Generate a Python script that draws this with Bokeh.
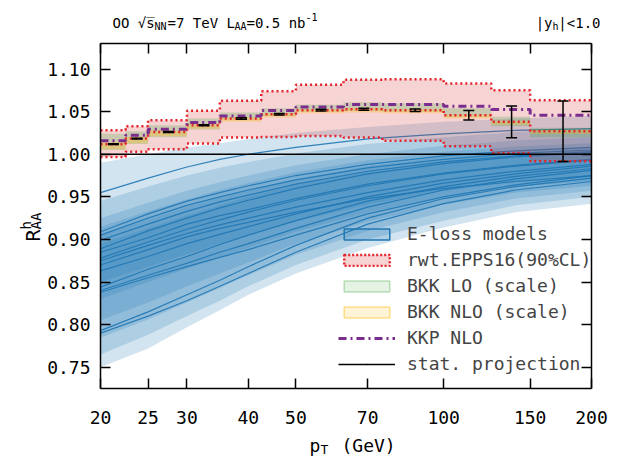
import numpy as np
from math import pi, log10
from bokeh.plotting import figure
from bokeh.models import (Range1d, FixedTicker, PrintfTickFormatter, LinearAxis, LogAxis,
                          Label, Legend, LegendItem)
from bokeh.embed import file_html
from bokeh.resources import INLINE

FONT = "DejaVu Sans Mono"

# ---------------- data ----------------
xticks = [20, 25, 30, 40, 50, 70, 100, 150, 200]
yticks = [0.75, 0.80, 0.85, 0.90, 0.95, 1.00, 1.05, 1.10]

# E-loss model curves / bands, evaluated at these pT nodes
pt_nodes = [20, 25, 30, 35, 40, 50, 70, 100, 140, 200]

band_a_lo = [0.750, 0.772, 0.797, 0.817, 0.835, 0.860, 0.890, 0.914, 0.932, 0.942]
band_a_hi = [0.990, 1.000, 1.008, 1.013, 1.018, 1.025, 1.032, 1.038, 1.042, 1.045]
band_b_lo = [0.765, 0.788, 0.810, 0.828, 0.845, 0.870, 0.900, 0.922, 0.940, 0.950]
band_b_hi = [0.945, 0.962, 0.975, 0.984, 0.991, 1.001, 1.012, 1.020, 1.026, 1.030]
band_c_lo = [0.785, 0.806, 0.826, 0.843, 0.858, 0.882, 0.910, 0.932, 0.948, 0.957]
band_c_hi = [0.925, 0.943, 0.957, 0.967, 0.975, 0.987, 1.000, 1.010, 1.016, 1.020]
band_d_lo = [0.805, 0.826, 0.845, 0.860, 0.873, 0.895, 0.921, 0.941, 0.955, 0.963]
band_d_hi = [0.915, 0.933, 0.947, 0.958, 0.966, 0.979, 0.993, 1.003, 1.009, 1.013]
band_e_lo = [0.830, 0.850, 0.866, 0.879, 0.890, 0.909, 0.932, 0.950, 0.962, 0.969]
band_e_hi = [0.905, 0.923, 0.938, 0.949, 0.958, 0.971, 0.986, 0.997, 1.004, 1.008]
band_f_lo = [0.850, 0.868, 0.883, 0.895, 0.905, 0.921, 0.941, 0.957, 0.967, 0.973]
band_f_hi = [0.895, 0.913, 0.928, 0.940, 0.950, 0.964, 0.980, 0.992, 1.000, 1.004]

eloss_l01 = [0.955, 0.972, 0.985, 0.994, 1.000, 1.008, 1.018, 1.024, 1.028, 1.030]
eloss_l02 = [0.909, 0.930, 0.945, 0.955, 0.963, 0.975, 0.988, 0.998, 1.004, 1.008]
eloss_l03 = [0.905, 0.925, 0.940, 0.950, 0.958, 0.970, 0.984, 0.994, 1.001, 1.005]
eloss_l04 = [0.899, 0.918, 0.933, 0.944, 0.952, 0.965, 0.980, 0.991, 0.998, 1.003]
eloss_l05 = [0.889, 0.910, 0.925, 0.937, 0.946, 0.960, 0.977, 0.989, 0.997, 1.002]
eloss_l06 = [0.885, 0.902, 0.918, 0.928, 0.935, 0.948, 0.965, 0.978, 0.987, 0.994]
eloss_l07 = [0.878, 0.897, 0.912, 0.923, 0.932, 0.946, 0.963, 0.977, 0.986, 0.993]
eloss_l08 = [0.875, 0.893, 0.907, 0.917, 0.925, 0.938, 0.955, 0.970, 0.980, 0.988]
eloss_l09 = [0.870, 0.888, 0.903, 0.913, 0.920, 0.932, 0.948, 0.960, 0.968, 0.975]
eloss_l10 = [0.863, 0.880, 0.895, 0.906, 0.915, 0.930, 0.950, 0.966, 0.977, 0.986]
eloss_l11 = [0.844, 0.865, 0.880, 0.894, 0.905, 0.922, 0.945, 0.962, 0.974, 0.983]
eloss_l12 = [0.840, 0.858, 0.872, 0.885, 0.895, 0.913, 0.938, 0.958, 0.971, 0.981]
eloss_l13 = [0.838, 0.855, 0.868, 0.879, 0.888, 0.905, 0.930, 0.950, 0.964, 0.975]
eloss_l14 = [0.793, 0.815, 0.835, 0.852, 0.868, 0.893, 0.925, 0.948, 0.962, 0.972]
eloss_l15 = [0.790, 0.810, 0.828, 0.845, 0.860, 0.885, 0.918, 0.942, 0.958, 0.968]

# binned predictions
bin_edges = [20, 22.5, 25, 30, 35, 42.5, 50, 62.5, 75, 100, 125, 150, 200]
epps_hi = [1.0282, 1.0330, 1.0400, 1.0510, 1.0627, 1.0740, 1.0815, 1.0873, 1.0880, 1.0830, 1.0750, 1.0635]
epps_lo = [0.9968, 1.0030, 1.0060, 1.0126, 1.0196, 1.0203, 1.0215, 1.0196, 1.0157, 1.0094, 1.0016, 0.9918]
epps_c = [1.0118, 1.0184, 1.0262, 1.0340, 1.0420, 1.0470, 1.0517, 1.0529, 1.0517, 1.0458, 1.0380, 1.0270]
bkk_lo_hi = [1.0240, 1.0270, 1.0340, 1.0420, 1.0490, 1.0540, 1.0580, 1.0610, 1.0600, 1.0540, 1.0440, 1.0310]
bkk_lo_lo = [1.0050, 1.0120, 1.0200, 1.0290, 1.0400, 1.0450, 1.0500, 1.0510, 1.0500, 1.0440, 1.0330, 1.0200]
bkk_nlo_hi = [1.0140, 1.0200, 1.0280, 1.0350, 1.0430, 1.0480, 1.0525, 1.0540, 1.0525, 1.0465, 1.0390, 1.0285]
bkk_nlo_lo = [1.0060, 1.0130, 1.0210, 1.0300, 1.0380, 1.0430, 1.0480, 1.0490, 1.0480, 1.0420, 1.0345, 1.0240]
kkp_nlo = [1.0157, 1.0223, 1.0294, 1.0372, 1.0450, 1.0513, 1.0556, 1.0584, 1.0584, 1.0564, 1.0525, 1.0458]
stat_err = [0.0005, 0.0005, 0.0006, 0.0007, 0.0008, 0.0009, 0.0010, 0.0012, 0.0015, 0.0055, 0.0186, 0.0356]

ref_line = 1.0
x_lo, x_hi = 20, 200
y_lo, y_hi = 0.725, 1.13

# ---------------- layout: the frame fills the canvas, the plot box sits inside it ----------------
W, H = 608, 459
BOX_L, BOX_R, BOX_T, BOX_B = 100, 591, 43, 388      # plot box in canvas pixels
dec_per_px = (log10(x_hi) - log10(x_lo)) / (BOX_R - BOX_L)
y_per_px = (y_hi - y_lo) / (BOX_B - BOX_T)
xr = Range1d(10 ** (log10(x_lo) - BOX_L * dec_per_px), 10 ** (log10(x_hi) + (W - BOX_R) * dec_per_px))
yr = Range1d(y_lo - (H - BOX_B) * y_per_px, y_hi + BOX_T * y_per_px)

p = figure(width=W, height=H, x_axis_type="log", x_range=xr, y_range=yr,
           x_axis_location=None, y_axis_location=None,
           output_backend="svg", toolbar_location=None,
           min_border=0, min_border_left=0, min_border_right=0, min_border_top=0, min_border_bottom=0)
p.xgrid.grid_line_color = None
p.ygrid.grid_line_color = None
p.outline_line_color = None
p.background_fill_color = "white"
p.border_fill_color = "white"

def style_axis(ax, ticks, fmt, labels=True, standoff=10):
    ax.ticker = FixedTicker(ticks=ticks)
    ax.formatter = PrintfTickFormatter(format=fmt)
    ax.major_tick_in = 10
    ax.major_tick_out = 0
    ax.major_tick_line_color = "black"
    ax.major_tick_line_width = 1.5
    ax.minor_tick_line_color = None
    ax.axis_line_color = "black"
    ax.axis_line_width = 1.5
    ax.major_label_text_font = FONT
    ax.major_label_text_color = "black"
    ax.major_label_text_font_size = "18px"
    ax.major_label_standoff = standoff
    if not labels:
        ax.major_label_overrides = {t: "" for t in ticks}
        ax.major_label_standoff = 0

bottom_ax = LogAxis(fixed_location=y_lo, bounds=(x_lo, x_hi))
style_axis(bottom_ax, xticks, "%d", standoff=22)
p.add_layout(bottom_ax, "below")
left_ax = LinearAxis(fixed_location=x_lo, bounds=(y_lo, y_hi))
style_axis(left_ax, yticks, "%.2f", standoff=10)
p.add_layout(left_ax, "left")
top_ax = LogAxis(fixed_location=y_hi, bounds=(x_lo, x_hi))
style_axis(top_ax, xticks, "%d", labels=False)
p.add_layout(top_ax, "above")
right_ax = LinearAxis(fixed_location=x_hi, bounds=(y_lo, y_hi))
style_axis(right_ax, yticks, "%.2f", labels=False)
p.add_layout(right_ax, "right")

# E-loss bands
blue = "#1f77b4"
for lo, hi in [(band_a_lo, band_a_hi), (band_b_lo, band_b_hi), (band_c_lo, band_c_hi),
               (band_d_lo, band_d_hi), (band_e_lo, band_e_hi), (band_f_lo, band_f_hi)]:
    p.varea(x=pt_nodes, y1=lo, y2=hi, fill_color=blue, fill_alpha=0.2)
for ln in [eloss_l01, eloss_l02, eloss_l03, eloss_l04, eloss_l05, eloss_l06, eloss_l07, eloss_l08,
           eloss_l09, eloss_l10, eloss_l11, eloss_l12, eloss_l13, eloss_l14, eloss_l15]:
    p.line(pt_nodes, ln, line_color=blue, line_width=1.2, line_alpha=0.9)

def ext(v):
    return list(v) + [v[-1]]

red = "#e3232b"
p.varea_step(x=bin_edges, y1=ext(epps_lo), y2=ext(epps_hi), step_mode="after",
             fill_color="#d62728", fill_alpha=0.2)
p.varea_step(x=bin_edges, y1=ext(bkk_lo_lo), y2=ext(bkk_lo_hi), step_mode="after",
             fill_color="#2ca02c", fill_alpha=0.22)
p.varea_step(x=bin_edges, y1=ext(bkk_nlo_lo), y2=ext(bkk_nlo_hi), step_mode="after",
             fill_color="#ffc125", fill_alpha=0.35)
for v in (epps_hi, epps_lo, epps_c):
    p.step(x=bin_edges, y=ext(v), mode="after", line_color=red, line_width=2.5, line_dash="2 3")
kkp_r = p.step(x=bin_edges, y=ext(kkp_nlo), mode="after", line_color="#7b2d8e",
               line_width=3, line_dash="8 4 2 4")

# reference line at R = 1
p.line(x=[x_lo, x_hi], y=[ref_line, ref_line], line_color="black", line_width=1.5)

xc = [(a + b) / 2 for a, b in zip(bin_edges[:-1], bin_edges[1:])]
yl = [c - e for c, e in zip(epps_c, stat_err)]
yh = [c + e for c, e in zip(epps_c, stat_err)]
stat_r = p.segment(x0=xc, y0=yl, x1=xc, y1=yh, line_color="black", line_width=1.5)
p.scatter(x=xc, y=yl, marker="dash", size=11, line_color="black", line_width=1.5)
p.scatter(x=xc, y=yh, marker="dash", size=11, line_color="black", line_width=1.5)
dot_r = p.scatter(x=xc, y=epps_c, marker="dot", size=4, line_color="black", fill_color="black")

# legend proxies (no visible data)
nan = [np.nan]
px_eloss = p.quad(left=nan, right=nan, top=nan, bottom=nan, fill_color=blue, fill_alpha=0.2,
                  line_color=blue, line_width=1.5)
px_epps = p.quad(left=nan, right=nan, top=nan, bottom=nan, fill_color="#d62728", fill_alpha=0.2,
                 line_color=red, line_width=2.5, line_dash="2 2")
px_lo = p.quad(left=nan, right=nan, top=nan, bottom=nan, fill_color="#2ca02c", fill_alpha=0.12,
               line_color="#2ca02c", line_alpha=0.3, line_width=1.5)
px_nlo = p.quad(left=nan, right=nan, top=nan, bottom=nan, fill_color="#ffc125", fill_alpha=0.18,
                line_color="#ffc125", line_alpha=0.5, line_width=1.5)

legend = Legend(items=[
    LegendItem(label="E-loss models", renderers=[px_eloss]),
    LegendItem(label="rwt.EPPS16(90%CL)", renderers=[px_epps]),
    LegendItem(label="BKK LO (scale)", renderers=[px_lo]),
    LegendItem(label="BKK NLO (scale)", renderers=[px_nlo]),
    LegendItem(label="KKP NLO", renderers=[kkp_r]),
    LegendItem(label="stat. projection", renderers=[stat_r, dot_r]),
], location=(338, 85), glyph_width=57, glyph_height=14, label_height=20, spacing=5,
   padding=0, margin=0, label_standoff=12, label_text_font=FONT, label_text_font_size="18px",
   border_line_color=None, background_fill_alpha=0)
p.add_layout(legend)

# ---------------- texts ----------------
def lab(text, x, y, dx, dy, size, angle=0.0, align="left"):
    p.add_layout(Label(x=x, y=y, x_offset=dx, y_offset=dy, text=text, angle=angle,
                       text_font=FONT, text_font_size=size, text_color="black",
                       text_align=align, text_baseline="alphabetic"))

# title row (offsets from the top-left / top-right corner of the plot box)
lab("OO \u221as\u0305", x_lo, y_hi, 12, 21, "14px")
lab("NN", x_lo, y_hi, 54, 17, "10px")
lab("=7 TeV L", x_lo, y_hi, 67, 21, "14px")
lab("AA", x_lo, y_hi, 134, 17, "10px")
lab("=0.5 nb", x_lo, y_hi, 146, 21, "14px")
lab("-1", x_lo, y_hi, 205, 27, "10px")

lab("|<1.0", x_hi, y_hi, 9, 21, "14px", align="right")
lab("h", x_hi, y_hi, -33, 17, "10px", align="right")
lab("|y", x_hi, y_hi, -39, 21, "14px", align="right")

# x-axis title
lab("p", x_lo, y_lo, 209, -57, "18px")
lab("T", x_lo, y_lo, 220, -61, "13px")
lab("(GeV)", x_lo, y_lo, 241, -57, "18px")

# y-axis title (rotated)
lab("R", x_lo, y_lo, -68, 147, "20px", angle=pi / 2)
lab("h", x_lo, y_lo, -75, 159, "14px", angle=pi / 2)
lab("AA", x_lo, y_lo, -65, 159, "14px", angle=pi / 2)

open("out.html", "w").write(file_html(p, INLINE))
